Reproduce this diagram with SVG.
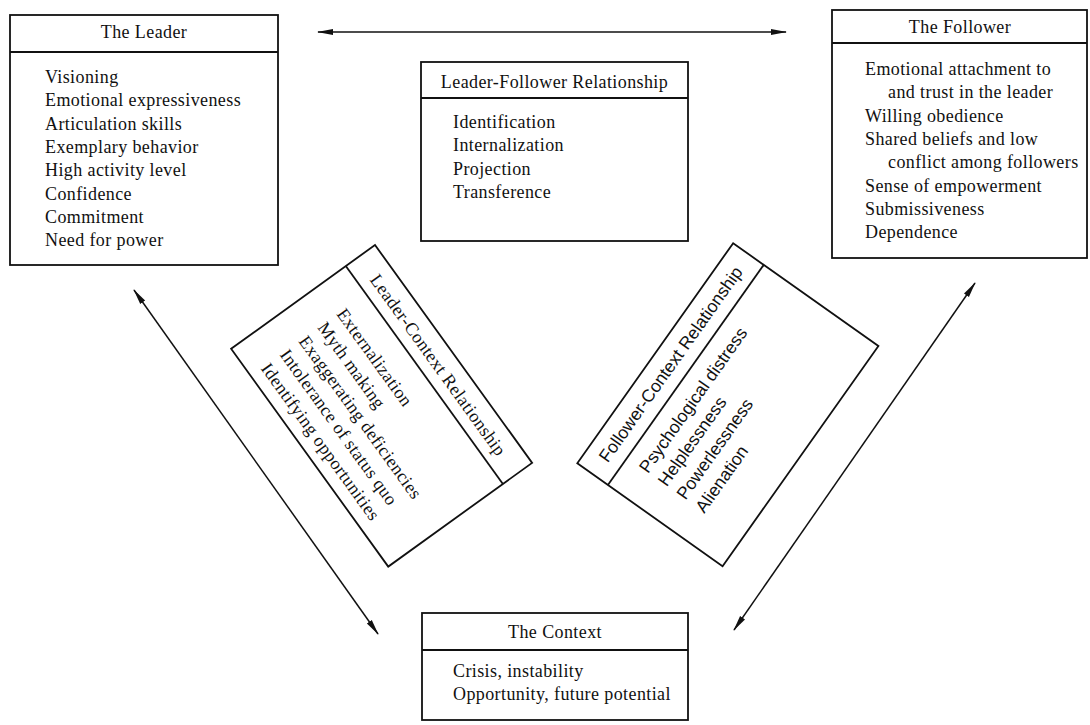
<svg xmlns="http://www.w3.org/2000/svg" width="1090" height="725" viewBox="0 0 1090 725">
  <style>
    .box { fill: #ffffff; stroke: #111111; stroke-width: 1.8; }
    .div { stroke: #111111; stroke-width: 1.8; fill: none; }
    .t { font-family: "Liberation Serif", "Times New Roman", serif; font-size: 18px; letter-spacing: 0.4px; fill: #111111; }
    .s { font-family: "Liberation Sans", Arial, sans-serif; font-size: 17.6px; fill: #111111; }
    .mid { text-anchor: middle; }
    .conn { stroke: #111111; stroke-width: 1.5; fill: none; marker-start: url(#ah); marker-end: url(#ah); }
  </style>
  <defs>
    <marker id="ah" markerUnits="userSpaceOnUse" markerWidth="16" markerHeight="8" refX="15" refY="4" orient="auto-start-reverse" viewBox="0 0 16 8">
      <path d="M0,1 L16,4 L0,7 z" fill="#111111"/>
    </marker>
  </defs>
  <rect width="1090" height="725" fill="#ffffff"/>

  <g id="connectors">
    <line class="conn" x1="318" y1="32" x2="786" y2="32"/>
    <line class="conn" x1="134" y1="290" x2="378" y2="634"/>
    <line class="conn" x1="975" y1="283" x2="734" y2="630"/>
  </g>

  <g id="leader">
    <rect class="box" x="10" y="15" width="268" height="250"/>
    <line class="div" x1="10" y1="52" x2="278" y2="52"/>
    <text class="t mid" x="144" y="38">The Leader</text>
    <text class="t" x="45" y="83">Visioning</text>
    <text class="t" x="45" y="106.3">Emotional expressiveness</text>
    <text class="t" x="45" y="129.6">Articulation skills</text>
    <text class="t" x="45" y="152.9">Exemplary behavior</text>
    <text class="t" x="45" y="176.2">High activity level</text>
    <text class="t" x="45" y="199.5">Confidence</text>
    <text class="t" x="45" y="222.8">Commitment</text>
    <text class="t" x="45" y="246.1">Need for power</text>
  </g>

  <g id="leader-follower">
    <rect class="box" x="421" y="62" width="267" height="179"/>
    <line class="div" x1="421" y1="98" x2="688" y2="98"/>
    <text class="t mid" x="554.5" y="88">Leader-Follower Relationship</text>
    <text class="t" x="453" y="128">Identification</text>
    <text class="t" x="453" y="151.3">Internalization</text>
    <text class="t" x="453" y="174.6">Projection</text>
    <text class="t" x="453" y="197.9">Transference</text>
  </g>

  <g id="follower">
    <rect class="box" x="832" y="10" width="255" height="248"/>
    <line class="div" x1="832" y1="43" x2="1087" y2="43"/>
    <text class="t mid" x="960" y="33">The Follower</text>
    <text class="t" x="865" y="75">Emotional attachment to</text>
    <text class="t" x="888" y="98.3">and trust in the leader</text>
    <text class="t" x="865" y="121.6">Willing obedience</text>
    <text class="t" x="865" y="144.9">Shared beliefs and low</text>
    <text class="t" x="888" y="168.2">conflict among followers</text>
    <text class="t" x="865" y="191.5">Sense of empowerment</text>
    <text class="t" x="865" y="214.8">Submissiveness</text>
    <text class="t" x="865" y="238.1">Dependence</text>
  </g>

  <g id="leader-context" transform="translate(375,245) rotate(54.2)">
    <rect class="box" x="0" y="0" width="268.6" height="177.4"/>
    <line class="div" x1="0" y1="36" x2="268.6" y2="36"/>
    <text class="t mid" x="134.3" y="25">Leader-Context Relationship</text>
    <text class="t" x="33" y="72">Externalization</text>
    <text class="t" x="33" y="95.3">Myth making</text>
    <text class="t" x="33" y="118.6">Exaggerating deficiencies</text>
    <text class="t" x="33" y="141.9">Intolerance of status quo</text>
    <text class="t" x="33" y="165.2">Identifying opportunities</text>
  </g>

  <g id="follower-context" transform="translate(577.3,463.3) rotate(-54.7)">
    <rect class="box" x="0" y="0" width="269.7" height="178"/>
    <line class="div" x1="0" y1="37.5" x2="269.7" y2="37.5"/>
    <text class="s mid" x="134.8" y="25">Follower-Context Relationship</text>
    <text class="s" x="32" y="64">Psychological distress</text>
    <text class="s" x="32" y="87">Helplessness</text>
    <text class="s" x="32" y="110">Powerlessness</text>
    <text class="s" x="32" y="133">Alienation</text>
  </g>

  <g id="context">
    <rect class="box" x="422" y="613" width="266" height="107"/>
    <line class="div" x1="422" y1="650" x2="688" y2="650"/>
    <text class="t mid" x="555" y="638">The Context</text>
    <text class="t" x="453" y="677">Crisis, instability</text>
    <text class="t" x="453" y="700">Opportunity, future potential</text>
  </g>
</svg>
